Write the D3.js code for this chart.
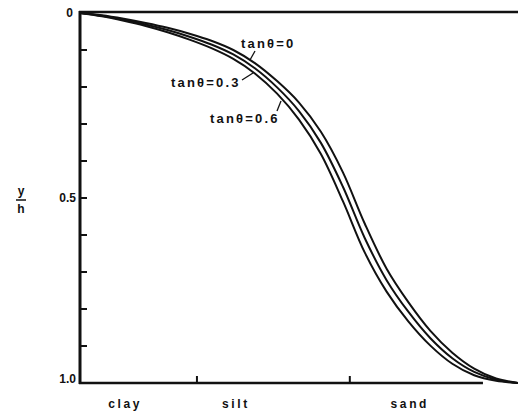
<!DOCTYPE html>
<html>
<head>
<meta charset="utf-8">
<script src="https://cdn.jsdelivr.net/npm/d3@7"></script>
<style>
  html, body { margin: 0; padding: 0; background: #fff; }
  svg { display: block; }
  text { font-family: "Liberation Sans", Arial, sans-serif; font-weight: bold; fill: #111; }
</style>
</head>
<body>
<svg id="chart" width="518" height="415"></svg>
<script>
// ---- data ----
const xValues = [0, 5, 10, 15, 20, 25, 30, 35, 40, 45, 50, 55, 60, 65, 70, 75, 80, 85, 90, 95, 100];
const yTan0   = [0, 0.0062, 0.0157, 0.027, 0.040, 0.056, 0.075, 0.100, 0.136, 0.184, 0.242, 0.321, 0.430, 0.569, 0.691, 0.782, 0.859, 0.918, 0.961, 0.988, 1.0];
const yTan03  = [0, 0.0076, 0.0184, 0.031, 0.046, 0.064, 0.085, 0.112, 0.150, 0.201, 0.265, 0.351, 0.469, 0.608, 0.722, 0.808, 0.879, 0.933, 0.970, 0.991, 1.0];
const yTan06  = [0, 0.0090, 0.0211, 0.035, 0.052, 0.072, 0.095, 0.124, 0.164, 0.218, 0.288, 0.381, 0.508, 0.647, 0.753, 0.834, 0.899, 0.948, 0.979, 0.994, 1.0];
const seriesNames = ["tanθ=0", "tanθ=0.3", "tanθ=0.6"];
const yMajorTicks = [0, 0.5, 1.0];
const yMajorLabels = ["0", "0.5", "1.0"];
const yMinorTicks = [0.1, 0.2, 0.3, 0.4, 0.5, 0.6, 0.7, 0.8, 0.9];
const xBoundaryTicks = [26.7, 61.6];
const categories = ["clay", "silt", "sand"];
const categoryCenters = [10.3, 35.6, 75.3];

// ---- layout ----
const svg = d3.select("#chart");
const mLeft = 80, mRight = 518, mTop = 13, mBottom = 383;
const x = d3.scaleLinear().domain([0, 100]).range([mLeft, mRight]);
const y = d3.scaleLinear().domain([0, 1]).range([mTop, mBottom]);

// top border
svg.append("line").attr("x1", mLeft - 1).attr("x2", 518).attr("y1", mTop - 1).attr("y2", mTop - 1)
  .attr("stroke", "#111").attr("stroke-width", 2.5);
// left axis
svg.append("line").attr("x1", mLeft).attr("x2", mLeft).attr("y1", mTop - 2).attr("y2", mBottom + 1)
  .attr("stroke", "#111").attr("stroke-width", 3);
// bottom axis
svg.append("line").attr("x1", mLeft - 1).attr("x2", x(92)).attr("y1", mBottom).attr("y2", mBottom)
  .attr("stroke", "#111").attr("stroke-width", 2.5);

// y minor ticks (inward)
svg.selectAll(".ytick").data(yMinorTicks).enter().append("line")
  .attr("x1", mLeft).attr("x2", mLeft + 7)
  .attr("y1", d => y(d)).attr("y2", d => y(d))
  .attr("stroke", "#111").attr("stroke-width", 2);

// y labels
svg.selectAll(".ylab").data(yMajorTicks).enter().append("text")
  .attr("x", (d, i) => i === 0 ? mLeft - 7 : mLeft - 4)
  .attr("y", (d, i) => y(d) + (i === 2 ? 0 : 4))
  .attr("text-anchor", "end")
  .attr("font-size", 12)
  .text((d, i) => yMajorLabels[i]);

// y axis title y/h
svg.append("text").attr("x", 21).attr("y", 195).attr("text-anchor", "middle").attr("font-size", 12).text("y");
svg.append("line").attr("x1", 16).attr("x2", 26).attr("y1", 200).attr("y2", 200).attr("stroke", "#111").attr("stroke-width", 1.5);
svg.append("text").attr("x", 21).attr("y", 213).attr("text-anchor", "middle").attr("font-size", 12).text("h");

// x boundary ticks (inward)
svg.selectAll(".xtick").data(xBoundaryTicks).enter().append("line")
  .attr("x1", d => x(d)).attr("x2", d => x(d))
  .attr("y1", mBottom).attr("y2", mBottom - 7)
  .attr("stroke", "#111").attr("stroke-width", 2);

// category labels
svg.selectAll(".cat").data(categories).enter().append("text")
  .attr("x", (d, i) => x(categoryCenters[i]))
  .attr("y", 408)
  .attr("text-anchor", "middle")
  .attr("font-size", 12)
  .attr("letter-spacing", 2.6)
  .text(d => d);

// curves
const line = d3.line().x(d => x(d[0])).y(d => y(d[1])).curve(d3.curveCatmullRom.alpha(0.5));
[yTan0, yTan03, yTan06].forEach(ys => {
  svg.append("path")
    .datum(xValues.map((xv, i) => [xv, ys[i]]))
    .attr("d", line)
    .attr("fill", "none")
    .attr("stroke", "#111")
    .attr("stroke-width", 2);
});

// labels with leaders
const labelPos = [
  { tx: 241, ty: 48, lx1: 255, ly1: 51, lx2: 250, ly2: 60 },
  { tx: 171, ty: 87, lx1: 242, ly1: 80, lx2: 253, ly2: 73 },
  { tx: 210, ty: 123, lx1: 277, ly1: 111, lx2: 281, ly2: 101 }
];
seriesNames.forEach((name, i) => {
  const p = labelPos[i];
  svg.append("text").attr("x", p.tx).attr("y", p.ty).attr("font-size", 13)
    .attr("letter-spacing", 2.2).text(name);
  svg.append("line").attr("x1", p.lx1).attr("y1", p.ly1).attr("x2", p.lx2).attr("y2", p.ly2)
    .attr("stroke", "#111").attr("stroke-width", 1.3);
});
</script>
</body>
</html>
